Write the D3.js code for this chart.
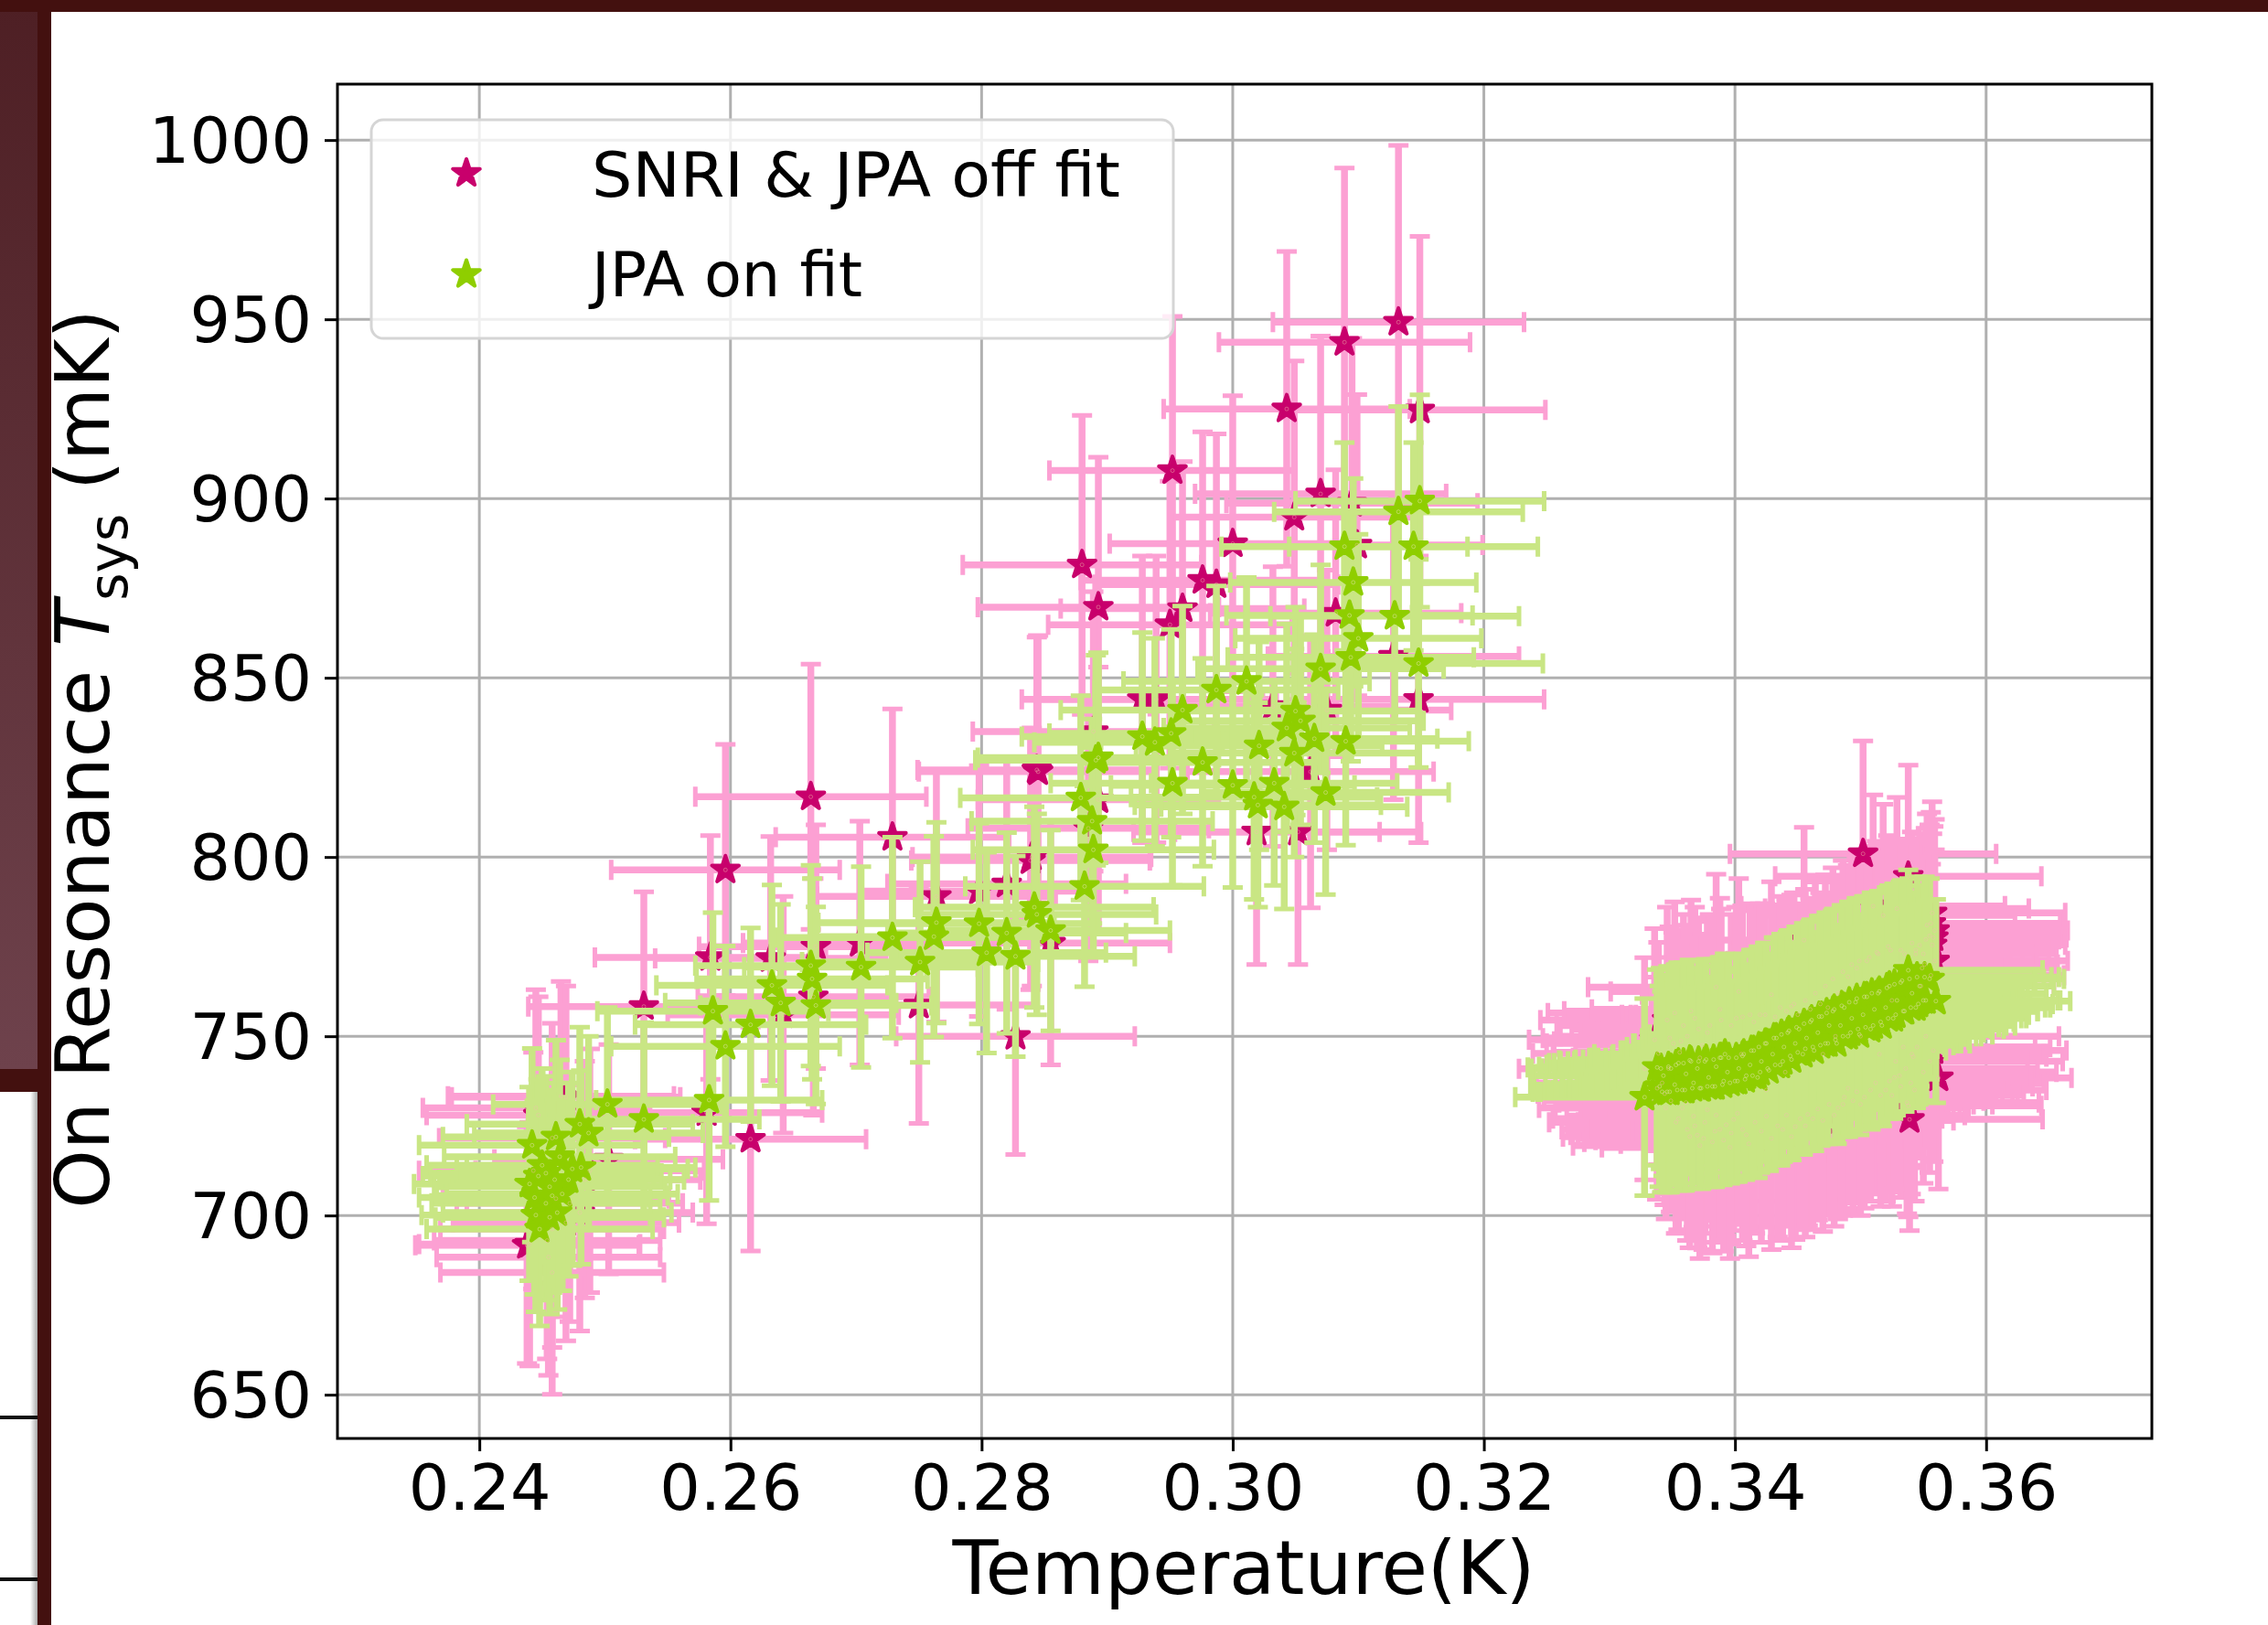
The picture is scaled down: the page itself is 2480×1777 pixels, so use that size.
<!DOCTYPE html>
<html><head><meta charset="utf-8">
<script src="https://cdn.jsdelivr.net/npm/d3@7/dist/d3.min.js"></script>
<style>html,body{margin:0;padding:0;background:#fff}svg{display:block}text{font-family:"DejaVu Sans",sans-serif;fill:#000}</style>
</head><body><svg id="c" width="2480" height="1777"></svg>
<script>
// rows: temperature (K), Tsys (mK), temperature error, Tsys error
const offFitLeft=[
[.2465,733.3,.0090,32],[.2445,730,.0090,33],[.2447,728,.0089,33],[.2458,721.6,.0090,32],[.2443,712.5,.0091,33],[.2484,710,.0092,33],
[.2461,704.7,.0090,33],[.2480,700.8,.0090,33],[.2469,698,.0090,33],[.2458,696.2,.0089,33],[.2440,692,.0088,34],[.2455,688.4,.0089,33],
[.2458,684.1,.0089,34],[.2472,703.4,.0090,33],[.2488,712.5,.0091,34],[.2503,715.7,.0091,32],[.2454,693,.0090,33],[.2438,691.7,.0089,33],
[.2469,733,.0091,31],[.2616,721.3,.0092,31.2],[.2581,728.7,.0092,31]];
const offFitMiddle=[
[.2664,816.8,.0092,37],[.2596,796.4,.0091,35],[.2729,805.5,.0093,35.8],[.2531,758.3,.0092,32],[.2844,824.3,.0095,37],[.2764,789,.0095,35],
[.2798,790.5,.0095,35],[.2820,792.5,.0095,35],[.2840,800,.0095,36],[.2584,772,.0092,34],[.2632,771.7,.0092,34],[.2668,775,.0093,34],
[.2703,776,.0093,34],[.2855,776,.0095,34],[.2666,761,.0092,33],[.2750,758.7,.0094,33],[.2642,756,.0092,33],[.2827,750,.0095,33],
[.3132,949.2,.0100,49.3],[.3089,943.6,.0100,48.6],[.3043,925,.0098,43.9],[.3149,924.7,.0100,48.4],[.2952,907.8,.0098,43],[.3070,901.3,.0100,44],
[.3095,898.7,.0100,46],[.3049,894.8,.0098,43.6],[.3000,887.4,.0098,41.3],[.3099,887,.0100,42],[.2880,881.5,.0095,41.7],[.2893,869.7,.0096,41.8],
[.2976,877.2,.0097,41.4],[.2987,876,.0097,42],[.2960,869.3,.0097,41],[.2950,864.8,.0097,40],[.3082,868,.0100,40],[.3128,856,.0100,40],
[.2928,844,.0096,40],[.2939,844,.0096,40],[.3032,842,.0098,39],[.3148,844,.0100,40],[.3075,841,.0099,39],[.2889,835,.0096,39],
[.2845,823.8,.0095,38],[.2893,816,.0096,37],[.2885,808,.0096,37],[.3019,807,.0098,37],[.3052,807,.0098,37],[.2839,799,.0095,36],[.3062,823.8,.0098,38]];
const offFitRight=[
[.3502,800.9,.0106,31.5],[.3538,794.6,.0106,31],[.3346,754.5,.0101,31.5],[.3385,763.7,.0102,31.5],[.3403,762.5,.0102,31.5],[.3429,761.6,.0103,31.5],
[.3455,776.8,.0104,31.5],[.3510,786.3,.0105,31],[.3518,783.7,.0105,31],[.3529,785.6,.0105,31],[.3557,784.4,.0106,31],[.3547,775.4,.0106,31],
[.3328,740.9,.0100,31],[.3339,745.2,.0100,31],[.3357,748.6,.0101,31],[.3445,758.4,.0103,31],[.3370,722.4,.0101,31.5],[.3411,720,.0102,31.5],
[.3448,724.8,.0103,31.5],[.3538,730.6,.0106,31],[.3562,738.4,.0106,31],[.3520,735,.0105,31],[.3487,733,.0104,31],[.3458,728.2,.0103,31],
[.3393,725.3,.0102,31],[.3344,734,.0101,31],[.3497,734.5,.0105,31],[.3539,726.8,.0106,31],
[.3351,748,.0101,31],[.3362,750,.0101,31],[.3371,752,.0101,31],[.3380,753,.0102,31],[.3389,754.5,.0102,31],[.3397,753,.0102,31],[.3406,755.4,.0102,31],
[.3415,754,.0103,31],[.3424,756,.0103,31],[.3432,755.4,.0103,31],[.3441,757,.0103,31],[.3450,756,.0104,31],[.3460,757.5,.0104,31],[.3468,759,.0104,31],
[.3474,758,.0104,31],[.3482,762,.0104,31],[.3490,766.6,.0105,31],[.3497,769,.0105,31],[.3505,771,.0105,31],[.3513,773.4,.0105,31],[.3522,775,.0105,31],
[.3532,774,.0106,31],[.3541,776,.0106,31],[.3550,773,.0106,31],[.3555,778,.0106,31],[.3553,781,.0106,31],[.3551,770,.0106,31],[.3556,767,.0106,31],[.3548,764,.0106,31],
[.3338,735.5,.0100,31],[.3349,732,.0101,31],[.3358,730,.0101,31],[.3367,727.7,.0101,31],[.3376,726,.0101,31],[.3385,728,.0102,31],[.3399,726.8,.0102,31],
[.3406,724,.0102,31],[.3416,726,.0102,31],[.3425,727.7,.0103,31],[.3434,725,.0103,31],[.3441,728,.0103,31],[.3452,727,.0103,31],[.3466,729.7,.0104,31],
[.3475,731,.0104,31],[.3482,730,.0104,31],[.3490,735.5,.0105,31],[.3503,733,.0105,31],[.3512,737,.0105,31],[.3523,737.5,.0105,31],[.3532,736,.0105,31],
[.3542,744.3,.0106,31],[.3550,740,.0106,31],[.3555,743,.0106,31],[.3545,747,.0106,31],[.3552,750,.0106,31],[.3558,746,.0106,31],[.3540,737,.0106,31],
[.3365,757,.0101,31],[.3372,744,.0101,31],[.3347,741,.0100,31],[.3336,749,.0100,31],[.3342,737,.0100,31],[.3355,727,.0100,31],[.3362,724,.0100,31],[.3375,721.5,.0100,31],
[.3405,745,.0102,31],[.3440,740,.0103,31],[.3470,745,.0104,31],[.3500,750,.0105,31],[.3525,760,.0105,31],[.3425,735,.0103,31],[.3480,750,.0104,31],[.3515,745,.0105,31],
[.3352,756.5,.0101,31],[.3368,755,.0101,31],[.3359,753,.0101,31],[.3378,751,.0101,31],[.3348,749.5,.0101,31],[.3374,747.5,.0101,31],[.3356,745.5,.0101,31],[.3388,757.5,.0102,31],
[.3361,731.5,.0101,31],[.3378,729.5,.0101,31],[.3368,725,.0101,31],[.3384,723.5,.0102,31],[.3391,721,.0102,31],[.3397,723,.0102,31],[.3372,719.5,.0101,31.5],[.3402,728.5,.0102,31],
[.3556,781.5,.0106,31],[.3559,779.5,.0106,31],[.3558,777.5,.0106,31],[.3557,775.5,.0106,31],[.3552,777,.0106,31],[.3544,773,.0106,31],[.3559,771,.0106,31],[.3549,769,.0106,31],
[.3534,747,.0105,31],[.3541,745,.0105,31],[.3528,743,.0105,31],[.3536,741,.0105,31],[.3531,739,.0105,31],[.3543,735,.0105,31],[.3525,733.5,.0105,31],[.3537,731.5,.0105,31],
[.3345,730,.0101,31],[.3353,726,.0101,31],[.3364,722,.0101,31],[.3382,720.5,.0102,31],[.3388,724,.0102,31],[.3396,719,.0102,31],[.3409,722.5,.0102,31],[.3421,723.5,.0103,31],
[.3429,721.5,.0103,31],[.3438,724,.0103,31],[.3445,722,.0103,31],[.3456,725,.0103,31],[.3462,727,.0103,31],[.3470,726.5,.0104,31],[.3479,728,.0104,31],[.3486,731,.0104,31],
[.3494,732,.0104,31],[.3500,731,.0105,31],[.3508,735,.0105,31],[.3516,733.5,.0105,31],[.3527,738.5,.0105,31],[.3401,755,.0102,31],[.3412,756,.0102,31],[.3420,756,.0103,31],
[.3436,758,.0103,31],[.3447,759,.0104,31],[.3456,760,.0104,31],[.3464,762,.0104,31],[.3472,764,.0104,31],[.3478,766,.0104,31],[.3486,768,.0105,31],[.3493,770,.0105,31],
[.3499,771,.0105,31],[.3507,772,.0105,31],[.3514,773,.0105,31],[.3524,774,.0105,31],[.3535,773,.0105,31],[.3544,774,.0106,31]];
const onFitLeft=[
[.2583,732.2,.0090,28],[.2502,731,.0091,27],[.2531,726.8,.0092,27],[.2480,725.5,.0090,27],[.2487,723,.0091,27],[.2461,721.9,.0090,27],
[.2442,719.6,.0090,27],[.2481,713.4,.0091,27],[.2440,708.8,.0092,27],[.2453,711.8,.0092,27],[.2460,710,.0092,27],[.2471,710,.0092,27],
[.2464,716.4,.0092,27],[.2447,711,.0092,27],[.2456,708,.0092,27],[.2453,703.4,.0091,27],[.2462,700.8,.0091,27],[.2445,700.1,.0091,27],
[.2448,696.2,.0090,27],[.2456,699.5,.0091,27],[.2450,714,.0092,27],[.2458,705.5,.0092,27],[.2466,706,.0092,27],[.2444,705,.0092,27],[.2474,713,.0092,27]];
const onFitMiddle=[
[.2879,816.5,.0096,28.5],[.2888,810,.0096,28.5],[.2889,802,.0096,28.5],[.2882,791.8,.0095,28],[.2842,786,.0095,28],[.2844,784,.0095,28],
[.2855,779.5,.0095,28],[.2764,781.7,.0094,28],[.2762,777.8,.0094,28],[.2798,781.4,.0095,28],[.2820,778.8,.0095,28],[.2729,777.5,.0093,28],
[.2804,773.3,.0095,28],[.2827,772.3,.0095,28],[.2751,770.7,.0094,28],[.2704,769.3,.0093,28],[.2664,769.7,.0092,28],[.2665,766,.0092,28],
[.2633,764.2,.0092,28],[.2640,759.3,.0092,27.5],[.2668,758.6,.0092,27.5],[.2586,757,.0092,27.5],[.2616,753.2,.0092,27],[.2596,747.2,.0091,28],
[.3149,899.3,.0099,29.6],[.3132,896.3,.0099,29.4],[.3089,886.6,.0098,29],[.3144,886.6,.0099,29],[.3096,876.6,.0098,29],[.3093,867.4,.0098,29],
[.3129,867.2,.0099,29],[.3100,861,.0098,29],[.3094,855.7,.0098,29],[.3148,854,.0099,29],[.3070,852.5,.0098,29],[.3011,849,.0098,29],
[.2987,846.6,.0097,29],[.2960,841,.0097,29],[.2928,833.6,.0096,29],[.2938,832,.0096,29],[.2951,834.5,.0097,29],[.3050,840.7,.0098,29],
[.3054,838,.0098,29],[.3043,836,.0098,29],[.3065,833,.0098,29],[.3090,832.3,.0098,29],[.3021,831,.0098,29],[.3049,829,.0098,29],
[.2976,826.4,.0097,29],[.2891,827,.0096,29.3],[.2893,827.7,.0096,29.3],[.2952,820.6,.0097,28.5],[.3000,820,.0097,28.5],[.3033,820.6,.0098,28.5],
[.3074,818,.0098,28.5],[.3017,816.7,.0098,28.5],[.3020,814.5,.0098,28.5],[.3041,814,.0098,28.5]];
const onFitRight=[
[.3328,733,.0103,27.5],[.3338,741.3,.0103,27.3],[.3340,736,.0103,28],[.3343,739,.0103,28],[.3346,734.5,.0103,28],[.3349,741,.0103,28],[.3352,736.5,.0103,28],
[.3355,742.5,.0103,28],[.3358,735,.0103,28],[.3361,739.5,.0104,28],[.3364,743.3,.0104,28],[.3367,737,.0104,28],[.3370,741,.0104,28],[.3373,735.5,.0104,28],
[.3376,743,.0104,28],[.3379,738.5,.0104,28],[.3382,736,.0104,28],[.3385,741.5,.0104,28],[.3388,744,.0104,28],[.3391,737.5,.0104,28],[.3394,740,.0104,28],
[.3392,745,.0104,28],[.3400,737.5,.0104,28],[.3403,741,.0104,28],[.3406,744.5,.0104,28],[.3409,739,.0104,28],[.3412,742,.0104,28],[.3415,746,.0104,28],
[.3418,738.5,.0105,28],[.3421,743,.0105,28],[.3424,748,.0105,28],[.3427,740.5,.0105,28],[.3430,745,.0105,28],[.3433,749.5,.0105,28],[.3436,742,.0105,28],
[.3439,747,.0105,28],[.3442,751,.0105,28],[.3445,743.5,.0105,28],[.3448,748,.0105,28],[.3451,752,.0105,28],[.3454,745,.0105,28],[.3457,749.5,.0105,28],
[.3460,754,.0105,28],[.3463,746,.0105,28],[.3466,751,.0105,28],[.3469,755.5,.0105,28],[.3472,748,.0105,28],[.3475,753,.0106,28],[.3478,757,.0106,28],
[.3481,748,.0106,28],[.3484,753,.0106,28],[.3487,758,.0106,28],[.3490,750,.0106,28],[.3493,755,.0106,28],[.3496,759.5,.0106,28],[.3499,750.5,.0106,28],
[.3502,756,.0106,28],[.3505,761,.0106,28],[.3508,752,.0106,28],[.3511,757.5,.0106,28],[.3514,762,.0106,28],[.3517,753,.0106,28],[.3520,758,.0106,28],
[.3523,764,.0106,28],[.3526,755,.0106,28],[.3529,760,.0106,28],[.3532,765,.0106,28],[.3535,757,.0106,28],[.3538,768.4,.0107,28],[.3541,762,.0107,28],
[.3544,758,.0107,28],[.3547,764,.0107,28],[.3550,760,.0107,28],[.3555,766,.0107,28],[.3560,759.8,.0107,28.4],
[.3341,741,.0103,28],[.3347,741.5,.0103,28],[.3353,742,.0103,28],[.3359,742.5,.0103,28],[.3365,743,.0104,28],[.3371,743,.0104,28],[.3377,743.5,.0104,28],[.3383,743.5,.0104,28],
[.3389,744,.0104,28],[.3395,744,.0104,28],[.3401,744,.0104,28],[.3407,745,.0104,28],[.3413,746,.0104,28],[.3419,747,.0105,28],[.3425,748,.0105,28],[.3431,749.5,.0105,28],
[.3437,750.5,.0105,28],[.3443,751.5,.0105,28],[.3449,752.5,.0105,28],[.3455,753.5,.0105,28],[.3461,754.5,.0105,28],[.3467,755.5,.0105,28],[.3473,756.5,.0106,28],[.3479,757.5,.0106,28],
[.3485,758.5,.0106,28],[.3491,759.5,.0106,28],[.3497,760.5,.0106,28],[.3503,761,.0106,28],[.3509,762,.0106,28],[.3515,762.5,.0106,28],[.3521,763.5,.0106,28],[.3527,764.5,.0106,28],
[.3533,765.5,.0106,28],[.3539,766,.0107,28],[.3545,766.5,.0107,28],[.3551,766.5,.0107,28],[.3342,734.5,.0103,28],[.3348,734.5,.0103,28],[.3354,735,.0103,28],[.3360,735,.0103,28],
[.3366,735.5,.0104,28],[.3372,735.5,.0104,28],[.3378,736,.0104,28],[.3384,736,.0104,28],[.3390,736.5,.0104,28],[.3396,737,.0104,28],[.3402,737.5,.0104,28],[.3408,738,.0104,28],
[.3414,739,.0105,28],[.3420,740,.0105,28],[.3426,741,.0105,28],[.3432,742,.0105,28],[.3438,743,.0105,28],[.3444,744.5,.0105,28],[.3450,745.5,.0105,28],[.3456,746.5,.0105,28],
[.3462,747,.0105,28],[.3468,747.5,.0106,28],[.3474,748,.0106,28],[.3480,749,.0106,28],[.3486,750,.0106,28],[.3492,751,.0106,28],[.3498,752,.0106,28],[.3504,752.5,.0106,28],
[.3510,753,.0106,28],[.3516,754,.0106,28],[.3522,755,.0106,28],[.3528,756,.0106,28],[.3534,757,.0107,28],[.3540,758,.0107,28],[.3546,759,.0107,28],[.3552,760,.0107,28]];
const xTicks=[.24,.26,.28,.30,.32,.34,.36];
const yTicks=[650,700,750,800,850,900,950,1000];
const legendLabels=["SNRI & JPA off fit","JPA on fit"];
const offColor="#c8006c",offErr="#fca0d3",onColor="#8fce00",onErr="#c9e684";

const svg=d3.select("#c");
const defs=svg.append("defs");
const g1=defs.append("linearGradient").attr("id","strip").attr("x1",0).attr("y1",0).attr("x2",0).attr("y2",1);
g1.append("stop").attr("offset",0).attr("stop-color","#4e1f24");
g1.append("stop").attr("offset",1).attr("stop-color","#6e424c");
const g2=defs.append("linearGradient").attr("id","shadow").attr("x1",0).attr("y1",0).attr("x2",1).attr("y2",0);
g2.append("stop").attr("offset",0).attr("stop-color","#fff");
g2.append("stop").attr("offset",1).attr("stop-color","#aaa");
svg.append("rect").attr("x",0).attr("y",0).attr("width",2480).attr("height",1777).attr("fill","#fff");
svg.append("rect").attr("x",0).attr("y",0).attr("width",41).attr("height",1169).attr("fill","url(#strip)");
svg.append("rect").attr("x",0).attr("y",1169).attr("width",41).attr("height",25).attr("fill","#43100f");
svg.append("rect").attr("x",33).attr("y",1194).attr("width",8).attr("height",583).attr("fill","url(#shadow)");
[1550,1727].forEach(y=>svg.append("rect").attr("x",0).attr("y",y-2).attr("width",41).attr("height",4).attr("fill","#111"));
svg.append("rect").attr("x",41).attr("y",0).attr("width",15).attr("height",1777).attr("fill","#43100f");
svg.append("rect").attr("x",0).attr("y",0).attr("width",2480).attr("height",13).attr("fill","#43100f");

const x=d3.scaleLinear().domain([.2287,.3732]).range([369,2353]);
const y=d3.scaleLinear().domain([637.8,1015.6]).range([1573,92]);
const grid=svg.append("g").attr("stroke","#b0b0b0").attr("stroke-width",3);
xTicks.forEach(t=>grid.append("line").attr("x1",x(t)).attr("x2",x(t)).attr("y1",92).attr("y2",1573));
yTicks.forEach(t=>grid.append("line").attr("y1",y(t)).attr("y2",y(t)).attr("x1",369).attr("x2",2353));

const star=d3.symbol().type(d3.symbolStar).size(270);
function series(rows,ec,mc){
  const g=svg.append("g");
  const e=g.append("g").attr("stroke",ec).attr("stroke-width",7.5).attr("fill","none");
  const cap=11;
  rows.forEach(d=>{
    const [a,b,xe,ye]=d;
    const cx=x(a),cy=y(b),l=x(a-xe),r=x(a+xe),t=y(b+ye),u=y(b-ye);
    e.append("path").attr("d",`M${l},${cy}H${r}M${cx},${t}V${u}`);
    e.append("path").attr("stroke-width",5).attr("d",`M${l},${cy-cap}V${cy+cap}M${r},${cy-cap}V${cy+cap}M${cx-cap},${t}H${cx+cap}M${cx-cap},${u}H${cx+cap}`);
  });
  g.selectAll("path.m").data(rows).join("path").attr("class","m").attr("d",star)
    .attr("transform",d=>`translate(${x(d[0])},${y(d[1])})`)
    .attr("fill",mc).attr("stroke",mc).attr("stroke-width",4).attr("stroke-linejoin","round");
}
const offAll=[...offFitLeft,...offFitMiddle,...offFitRight];
const onAll=[...onFitLeft,...onFitMiddle,...onFitRight];
series(offAll,offErr,offColor);
series(onAll,onErr,onColor);
const rings=svg.append("g").attr("fill","none").attr("stroke-width",1);
rings.selectAll("circle.a").data(offAll).join("circle").attr("class","a").attr("cx",d=>x(d[0])).attr("cy",d=>y(d[1])).attr("r",2).attr("stroke","rgba(240,190,170,.45)");
rings.selectAll("circle.b").data(onAll).join("circle").attr("class","b").attr("cx",d=>x(d[0])).attr("cy",d=>y(d[1])).attr("r",2).attr("stroke","rgba(215,225,150,.6)");

svg.append("rect").attr("x",369).attr("y",92).attr("width",1984).attr("height",1481).attr("fill","none").attr("stroke","#000").attr("stroke-width",3);
const ax=svg.append("g").attr("transform","translate(0,1573)").call(d3.axisBottom(x).tickValues(xTicks).tickFormat(d3.format(".2f")).tickSize(14).tickPadding(14));
const ay=svg.append("g").attr("transform","translate(369,0)").call(d3.axisLeft(y).tickValues(yTicks).tickFormat(d3.format("d")).tickSize(14).tickPadding(14));
[ax,ay].forEach(a=>{a.select(".domain").remove();a.selectAll("line").attr("stroke","#000").attr("stroke-width",3);a.selectAll("text").attr("font-size",70).attr("font-family",'"DejaVu Sans"').attr("fill","#000");});
ay.selectAll("text").attr("transform","translate(0,1.5)");

svg.append("text").attr("x",1360).attr("y",1743).attr("text-anchor","middle").attr("font-size",82).text("Temperature(K)");
const yl=svg.append("text").attr("transform","translate(119,830) rotate(-90)").attr("text-anchor","middle").attr("font-size",82);
yl.append("tspan").text("On Resonance ");
yl.append("tspan").attr("font-style","italic").text("T");
yl.append("tspan").attr("font-size",58).attr("dy",20).text("sys");
yl.append("tspan").attr("dy",-20).attr("dx",26).text("(mK)");

svg.append("rect").attr("x",406).attr("y",131).attr("width",877).attr("height",239).attr("rx",13).attr("fill","#fff").attr("fill-opacity",.8).attr("stroke","#d5d5d5").attr("stroke-width",3);
[[189.5,offColor,215,578],[300,onColor,324,296]].forEach((r,i)=>{
  svg.append("path").attr("d",star).attr("transform",`translate(510,${r[0]})`).attr("fill",r[1]).attr("stroke",r[1]).attr("stroke-width",4).attr("stroke-linejoin","round");
  svg.append("text").attr("x",647).attr("y",r[2]).attr("font-size",68).attr("textLength",r[3]).attr("lengthAdjust","spacingAndGlyphs").text(legendLabels[i]);
});
</script></body></html>
